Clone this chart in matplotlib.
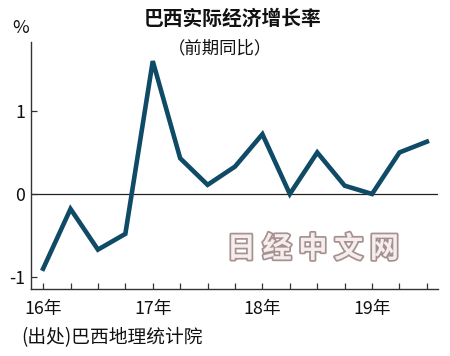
import matplotlib
matplotlib.use("Agg")
import matplotlib.pyplot as plt
import matplotlib.patheffects as pe

plt.rcParams['font.family'] = ['Noto Sans CJK SC', 'DejaVu Sans']

# 季度序号（16年Q1 起）
quarters = list(range(15))
growth = [-0.9, -0.18, -0.67, -0.48, 1.6, 0.43, 0.11, 0.33, 0.72, 0.0, 0.5, 0.1, 0.0, 0.5, 0.63]
year_pos = [0, 4, 8, 12]
year_labels = ["16年", "17年", "18年", "19年"]
y_ticks = [-1, 0, 1]

fig = plt.figure(figsize=(4.5, 3.56), dpi=100)
ax = fig.add_axes([0.069, 0.188, 0.904, 0.694])

ax.axhline(0, color="#222222", lw=0.9, zorder=1)
ax.plot(quarters, growth, color="#0f4a66", lw=3.3, solid_joinstyle="miter", zorder=3)

ax.set_xlim(-0.44, 14.4)
ax.set_ylim(-1.145, 1.83)

ax.spines["top"].set_visible(False)
ax.spines["right"].set_visible(False)
ax.spines["left"].set_color("#333333")
ax.spines["bottom"].set_color("#333333")
ax.spines["left"].set_linewidth(1.0)
ax.spines["bottom"].set_linewidth(1.0)

ax.set_xticks(quarters, minor=True)
ax.set_xticks(year_pos)
ax.set_xticklabels(year_labels)
ax.tick_params(axis="x", which="both", direction="in", length=4, width=0.9, colors="#333333",
               labelsize=12.8, pad=8, labelcolor="#111111")
ax.set_yticks(y_ticks)
ax.set_yticklabels([str(v) for v in y_ticks])
ax.tick_params(axis="y", direction="in", length=4, width=0.9, colors="#333333",
               labelsize=12.8, pad=4, labelcolor="#111111")

fig.text(0.517, 0.945, "巴西实际经济增长率", ha="center", va="center",
         fontsize=14.2, fontweight="bold", color="#111111")
fig.text(0.49, 0.865, "（前期同比）", ha="center", va="center", fontsize=12.5, color="#111111")
fig.text(0.045, 0.92, "%", ha="center", va="center", fontsize=13, color="#111111")
fig.text(0.048, 0.052, "(出处)巴西地理统计院", ha="left", va="center", fontsize=13.5, color="#111111")

fig.text(0.695, 0.302, "日 经 中 文 网", ha="center", va="center", fontsize=21,
         fontweight="bold", color="#f4eeee",
         path_effects=[pe.withStroke(linewidth=2.5, foreground="#a89090")])

fig.savefig("out.png", dpi=100)
